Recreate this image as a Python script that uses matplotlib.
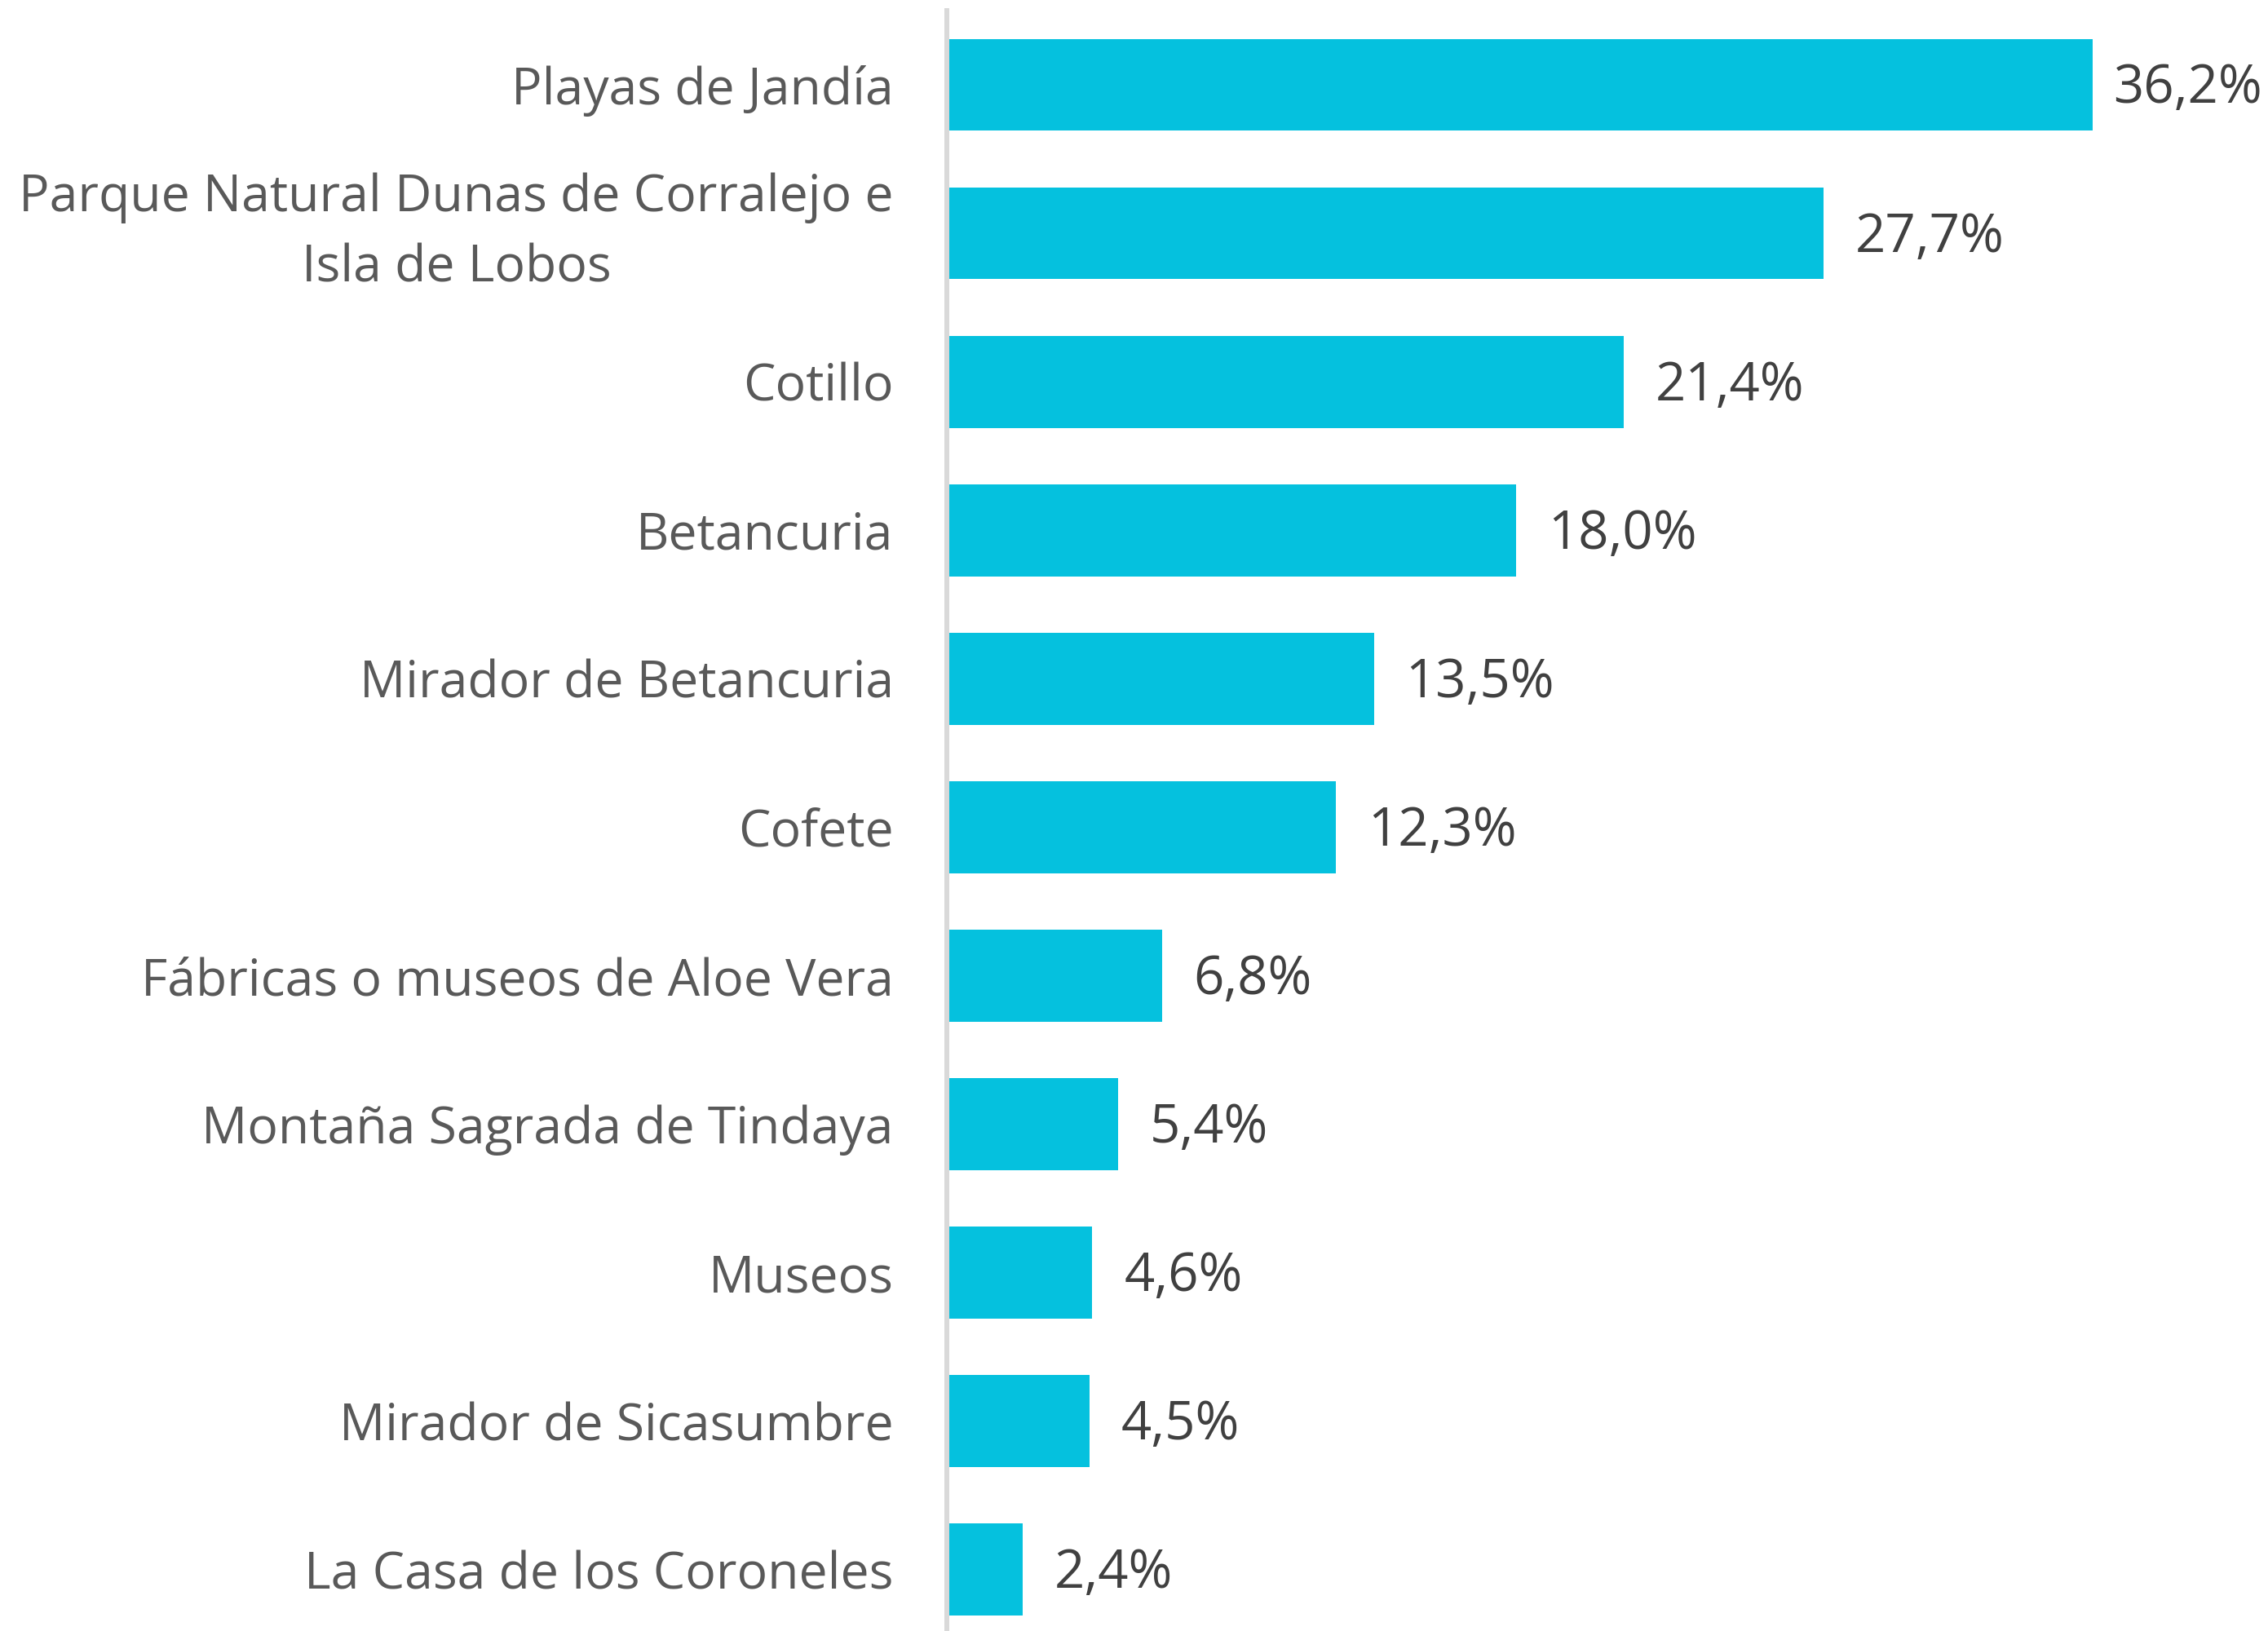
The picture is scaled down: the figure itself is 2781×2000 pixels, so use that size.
"""
Lugares visitados en Fuerteventura - barras horizontales
"""

import matplotlib.pyplot as plt

# -----------------------------
# Data
# -----------------------------
LUGARES = [
    'Playas de Jandía',
    'Parque Natural Dunas de Corralejo e\nIsla de Lobos',
    'Cotillo',
    'Betancuria',
    'Mirador de Betancuria',
    'Cofete',
    'Fábricas o museos de Aloe Vera',
    'Montaña Sagrada de Tindaya',
    'Museos',
    'Mirador de Sicasumbre',
    'La Casa de los Coroneles',
]
PORCENTAJES = [36.2, 27.7, 21.4, 18.0, 13.5, 12.3, 6.8, 5.4, 4.6, 4.5, 2.4]

BAR_COLOR = '#05C1DE'
LABEL_COLOR = '#595959'
VALUE_COLOR = '#404040'
FONT = ['Open Sans', 'DejaVu Sans']

# -----------------------------
# Figure
# -----------------------------
W, H, DPI = 2781, 2000, 100
LEFT = 1161
fig = plt.figure(figsize=(W / DPI, H / DPI), dpi=DPI)
ax = fig.add_axes([LEFT / W, 0, (W - LEFT) / W, (H - 13) / H])

pos = list(range(len(LUGARES)))
ax.barh(pos, PORCENTAJES, height=0.62, color=BAR_COLOR, zorder=1)

xmax = (W - LEFT) / 38.8
ax.set_xlim(0, xmax)
ax.set_ylim(10.415, -0.5)

# value labels (Excel pushes the widest one back inside the plot area)
for y, v in zip(pos, PORCENTAJES):
    x = min(v + 1.0, xmax - 4.9)
    ax.text(x, y + 0.03, f'{v:.1f}%'.replace('.', ','), va='center', ha='left',
            fontsize=47, color=VALUE_COLOR, family=FONT)

ax.set_yticks(pos)
ax.set_yticklabels(LUGARES, fontsize=45, color=LABEL_COLOR, family=FONT,
                   multialignment='center', linespacing=1.5)
for lbl in ax.get_yticklabels():
    if '\n' in lbl.get_text():
        lbl.set_va('center')
ax.tick_params(axis='y', length=0, pad=47)
ax.set_xticks([])

for side in ['top', 'right', 'bottom']:
    ax.spines[side].set_visible(False)
ax.spines['left'].set_color('#D9D9D9')
ax.spines['left'].set_linewidth(4.3)
ax.spines['left'].set_zorder(3)

fig.savefig('out.png', dpi=DPI, facecolor='white')
